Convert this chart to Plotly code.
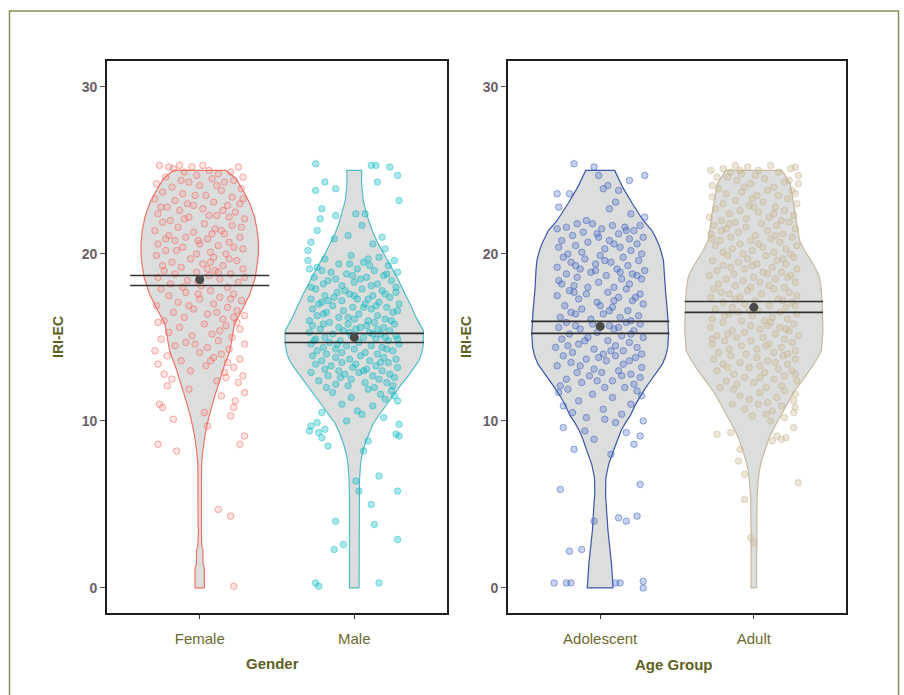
import plotly.graph_objects as go

# ---------------- data ----------------
gender_cats = ["Female", "Male"]
age_cats = ["Adolescent", "Adult"]

# summary: mean and CI bounds
gender_mean = [18.47, 15.00]
gender_ci_lo = [18.11, 14.70]
gender_ci_hi = [18.71, 15.24]
age_mean = [15.66, 16.80]
age_ci_lo = [15.24, 16.50]
age_ci_hi = [15.96, 17.15]

# violin density profiles: score level and half-width (category units)
female_prof_y = [0, 1.2, 1.4, 2.3, 2.5, 3.5, 3.7, 7.4, 8.2, 9.2, 10.2, 11.2, 12.2, 13.2, 14.2, 15.0, 15.8, 16.8, 17.6, 18.6, 19.4, 20.0, 20.6, 21.4, 22.2, 23.0, 23.6, 24.1, 24.5, 25.0]
female_prof_w = [0.030, 0.030, 0.022, 0.020, 0.013, 0.008, 0.011, 0.012, 0.020, 0.035, 0.058, 0.088, 0.120, 0.155, 0.195, 0.210, 0.225, 0.283, 0.325, 0.360, 0.374, 0.380, 0.380, 0.372, 0.355, 0.325, 0.292, 0.262, 0.235, 0.170]
male_prof_y = [0, 5.5, 6.5, 7.45, 8.05, 8.65, 9.25, 9.85, 10.4, 11.0, 11.6, 12.2, 12.7, 13.2, 13.6, 14.0, 14.6, 15.4, 16.2, 16.9, 17.6, 18.4, 19.2, 19.9, 20.6, 21.2, 21.8, 22.5, 23.2, 24.2, 25.0]
male_prof_w = [0.031, 0.031, 0.034, 0.041, 0.052, 0.070, 0.094, 0.123, 0.163, 0.210, 0.258, 0.306, 0.350, 0.390, 0.418, 0.435, 0.447, 0.447, 0.400, 0.366, 0.330, 0.287, 0.240, 0.195, 0.155, 0.125, 0.100, 0.077, 0.058, 0.047, 0.048]
adol_prof_y = [0, 1.5, 3.5, 5.1, 5.6, 6.6, 7.4, 8.3, 8.9, 9.4, 9.9, 10.3, 10.9, 11.4, 11.9, 12.3, 12.9, 13.4, 13.9, 14.4, 15.2, 16.5, 17.8, 19.0, 19.6, 20.1, 20.6, 21.0, 21.4, 22.0, 22.5, 23.0, 24.0, 25.0]
adol_prof_w = [0.084, 0.073, 0.050, 0.040, 0.035, 0.037, 0.055, 0.090, 0.112, 0.135, 0.165, 0.195, 0.225, 0.255, 0.290, 0.320, 0.365, 0.405, 0.427, 0.440, 0.445, 0.438, 0.425, 0.418, 0.412, 0.398, 0.380, 0.360, 0.337, 0.280, 0.245, 0.210, 0.146, 0.094]
adult_prof_y = [0, 3.5, 5.4, 6.3, 7.0, 7.6, 8.3, 9.0, 9.7, 10.4, 11.1, 11.8, 12.4, 13.0, 13.6, 14.2, 15.4, 17.2, 18.0, 18.6, 19.1, 19.6, 20.2, 20.8, 21.5, 22.2, 23.2, 24.2, 25.0]
adult_prof_w = [0.018, 0.018, 0.021, 0.027, 0.036, 0.050, 0.073, 0.100, 0.138, 0.179, 0.222, 0.265, 0.315, 0.362, 0.405, 0.440, 0.450, 0.444, 0.438, 0.427, 0.403, 0.373, 0.330, 0.298, 0.285, 0.276, 0.258, 0.237, 0.183]

# individual jittered observations: (score, horizontal jitter)
female_pts = [
 (25.3,-0.26),(25.2,-0.20),(25.1,-0.17),(25.3,-0.13),(25.2,-0.05),(24.9,-0.10),(25.3,0.02),(25.0,0.06),(24.8,0.12),(25.2,0.25),(24.9,0.20),(24.6,-0.22),(24.7,-0.02),(24.5,0.08),(24.4,-0.12),(24.3,0.16),(24.6,0.28),(24.2,-0.28),(24.1,0.00),(24.4,0.22),(24.0,-0.18),(24.1,0.11),(23.9,0.27),(24.3,-0.07),
 (23.7,-0.24),(23.6,-0.11),(23.5,0.04),(23.8,0.14),(23.4,0.21),(23.3,-0.29),(23.2,-0.16),(23.1,0.09),(23.0,0.26),(22.9,-0.04),(22.8,-0.21),(22.9,0.18),(22.7,0.02),(22.6,-0.13),(22.5,0.23),(22.4,-0.27),(22.3,0.11),(22.2,-0.07),(22.1,0.29),(22.0,-0.19),(22.3,0.06),(22.6,0.15),(23.0,-0.08),(23.3,0.28),(22.2,0.19),(22.8,-0.25),(23.5,-0.03),(22.1,-0.10),
 (21.9,-0.24),(21.8,0.03),(21.7,0.21),(21.6,-0.14),(21.5,0.10),(21.4,-0.29),(21.3,-0.04),(21.2,0.16),(21.1,-0.20),(21.0,0.26),(21.0,-0.09),(20.9,0.05),(20.8,-0.16),(20.7,0.19),(20.6,-0.27),(20.6,0.00),(20.5,0.12),(20.4,-0.11),(20.3,0.28),(20.2,-0.22),(20.1,0.07),(20.0,-0.02),(20.4,0.22),(20.8,-0.01),(21.2,0.08),(21.6,0.27),(20.0,0.17),(20.9,-0.22),(21.4,0.14),(20.2,-0.15),
 (19.9,-0.28),(19.8,0.09),(19.7,-0.06),(19.6,0.24),(19.5,-0.18),(19.4,0.02),(19.3,0.15),(19.2,-0.12),(19.1,0.28),(19.0,-0.23),(19.0,0.10),(18.9,-0.02),(18.8,0.20),(18.8,-0.16),(18.7,0.06),(18.6,-0.27),(18.5,0.13),(18.4,-0.08),(18.3,0.25),(18.2,-0.19),(18.1,0.01),(18.0,0.18),(18.0,-0.11),(19.3,-0.24),(18.6,0.29),(19.7,0.19),(18.3,-0.01),(19.5,0.07),(18.9,0.12),(19.1,0.05),
 (17.9,-0.25),(17.8,0.07),(17.7,-0.09),(17.6,0.22),(17.5,-0.20),(17.4,0.13),(17.3,0.00),(17.2,0.27),(17.1,-0.14),(17.0,0.09),(16.9,-0.28),(16.8,0.18),(16.7,-0.04),(16.6,0.24),(16.5,-0.17),(16.4,0.05),(16.3,0.29),(16.2,-0.10),(16.1,0.15),(16.0,-0.23),(16.5,0.11),(17.3,0.20),(16.9,-0.07),(17.6,-0.01),(16.2,0.22),
 (15.9,-0.27),(15.8,0.03),(15.7,0.17),(15.6,-0.13),(15.5,0.26),(15.3,-0.20),(15.2,0.08),(15.1,-0.05),(15.0,0.21),(14.9,-0.25),(14.8,0.12),(14.7,-0.09),(14.6,0.29),(14.5,-0.16),(14.4,0.05),(14.3,0.19),(14.2,-0.29),(14.1,0.00),(14.0,0.14),(15.4,0.13),(14.6,-0.03),(15.9,0.24),
 (13.9,-0.21),(13.8,0.09),(13.7,0.26),(13.6,-0.12),(13.5,0.18),(13.4,-0.27),(13.3,0.04),(13.2,0.22),(13.0,-0.06),(12.9,0.16),(12.8,-0.23),(12.7,0.28),(12.5,-0.18),(12.4,0.11),(12.3,0.25),(12.1,-0.21),(13.6,0.07),(12.6,0.17),
 (11.9,-0.07),(11.7,0.29),(11.5,0.14),(11.2,0.23),(11.0,-0.26),(10.8,-0.24),(10.8,0.22),(10.5,0.03),(10.3,0.20),(10.1,-0.17),
 (9.7,0.05),(9.1,0.29),(8.6,-0.27),(8.6,0.26),(8.2,-0.15),
 (4.7,0.12),(4.3,0.20),(0.1,0.22),
]
male_pts = [
 (25.4,-0.25),(25.3,0.11),(25.3,0.14),(25.2,0.23),(24.7,0.28),(24.3,-0.19),(24.3,0.15),(23.9,-0.12),(23.8,-0.25),(23.2,0.29),
 (22.7,-0.21),(22.4,0.01),(22.4,0.07),(22.3,-0.12),(22.1,-0.22),(21.4,-0.24),(21.1,-0.04),(21.0,0.18),(20.7,-0.28),(20.3,0.20),(20.2,-0.30),(20.6,0.12),(21.7,0.05),(20.9,-0.13),
 (19.9,-0.02),(19.8,0.16),(19.7,-0.19),(19.6,-0.30),(19.6,0.26),(19.5,0.06),(19.4,-0.10),(19.3,0.22),(19.2,-0.24),(19.1,-0.29),(19.1,0.02),(19.0,0.13),(18.9,-0.15),(18.9,0.28),(18.8,-0.05),(18.7,0.19),(18.6,-0.26),(18.6,0.08),(18.5,-0.12),(18.4,0.24),(18.3,0.00),(18.2,-0.20),(18.2,0.15),(18.1,-0.08),(18.0,0.27),(18.0,-0.28),(18.4,-0.17),(19.3,0.10),(18.7,-0.01),(19.7,0.09),(18.1,0.11),(18.8,0.21),(19.0,-0.21),(18.5,0.04),(19.4,-0.03),
 (17.9,-0.25),(17.9,0.05),(17.8,0.18),(17.7,-0.11),(17.7,0.27),(17.6,-0.03),(17.5,-0.19),(17.5,0.12),(17.4,0.23),(17.3,-0.28),(17.3,0.02),(17.2,-0.08),(17.1,0.16),(17.1,-0.21),(17.0,0.29),(17.0,0.07),(16.9,-0.14),(16.8,0.21),(16.8,-0.01),(16.7,-0.27),(16.7,0.11),(16.6,-0.07),(16.5,0.25),(16.5,-0.18),(16.4,0.03),(16.3,0.15),(16.3,-0.24),(16.2,-0.10),(16.1,0.20),(16.1,0.00),(16.0,-0.29),(16.0,0.09),(17.6,0.20),(17.2,-0.17),(16.9,0.14),(16.6,0.28),(16.2,-0.04),(17.4,-0.13),(17.8,-0.06),(16.4,-0.20),(17.0,-0.23),(16.8,0.06),(17.5,0.00),(16.0,0.24),(17.3,0.09),
 (15.9,-0.16),(15.9,0.13),(15.8,0.26),(15.8,-0.04),(15.7,-0.27),(15.7,0.08),(15.6,-0.10),(15.6,0.19),(15.5,0.01),(15.5,-0.22),(15.4,0.23),(15.4,-0.07),(15.3,0.10),(15.3,-0.29),(15.2,-0.14),(15.2,0.17),(15.1,0.27),(15.1,-0.02),(15.0,-0.19),(15.0,0.06),(14.9,0.14),(14.9,-0.25),(14.8,-0.09),(14.8,0.22),(14.7,0.03),(14.7,-0.16),(14.6,0.29),(14.6,-0.28),(14.5,0.11),(14.5,-0.05),(14.4,-0.20),(14.4,0.18),(14.3,0.00),(14.3,-0.12),(14.2,0.25),(14.2,-0.24),(14.1,0.07),(14.1,-0.08),(14.0,0.15),(14.0,-0.18),(15.6,0.04),(15.0,0.20),(14.6,-0.11),(15.3,-0.03),(14.9,0.28),(15.8,-0.20),(14.3,0.21),(15.2,0.12),(14.8,-0.26),(15.5,0.15),
 (13.9,-0.27),(13.9,0.04),(13.8,0.19),(13.8,-0.12),(13.7,0.27),(13.7,-0.03),(13.6,-0.21),(13.6,0.10),(13.5,0.22),(13.5,-0.08),(13.4,0.01),(13.4,-0.25),(13.3,0.14),(13.3,-0.15),(13.2,0.28),(13.2,-0.01),(13.1,-0.19),(13.1,0.08),(13.0,0.18),(13.0,-0.10),(12.9,-0.28),(12.9,0.03),(12.8,0.23),(12.8,-0.06),(12.7,0.12),(12.7,-0.17),(12.6,0.26),(12.5,-0.02),(12.5,0.16),(12.4,-0.23),(12.3,0.07),(12.3,0.21),(12.2,-0.12),(12.1,0.25),(12.1,-0.04),(12.0,0.13),(12.0,-0.18),(13.5,0.17),(12.6,-0.09),(13.0,0.06),
 (11.9,0.09),(11.8,0.24),(11.7,-0.14),(11.6,0.17),(11.5,0.26),(11.4,-0.02),(11.3,0.20),(11.2,0.28),(11.0,-0.08),(10.9,0.12),(10.6,0.02),(10.5,-0.21),(10.4,0.05),(10.2,0.19),(10.0,-0.05),
 (9.9,-0.24),(9.8,0.29),(9.7,-0.28),(9.5,-0.19),(9.4,-0.29),(9.3,-0.23),(9.2,0.27),(9.1,0.29),(9.0,-0.21),(8.8,0.09),(8.5,-0.17),(8.2,0.06),
 (6.7,0.16),(6.4,0.01),(5.8,0.28),(5.8,0.03),(5.0,0.11),(4.0,-0.12),(3.8,0.13),(2.9,0.28),(2.6,-0.07),(2.3,-0.13),(0.3,-0.25),(0.1,-0.23),(0.3,0.16),
]
adol_pts = [
 (25.4,-0.17),(25.2,-0.04),(24.7,0.29),(24.7,-0.01),(24.4,0.19),(24.1,0.05),(23.9,0.02),(23.8,0.12),(23.6,-0.28),(23.6,-0.20),(23.1,0.10),(22.8,-0.27),(22.7,0.06),(22.2,0.29),(22.0,-0.09),(22.4,0.20),
 (21.8,-0.15),(21.8,-0.05),(21.7,0.08),(21.7,0.26),(21.6,-0.22),(21.6,0.16),(21.5,-0.28),(21.5,0.01),(21.4,0.22),(21.3,-0.11),(21.2,0.12),(21.1,-0.18),(21.0,0.28),(21.0,-0.01),(20.9,0.19),(20.8,-0.25),(20.8,0.06),(20.7,-0.08),(20.6,0.24),(20.5,-0.16),(20.4,0.13),(20.4,-0.27),(20.3,0.03),(20.2,0.20),(20.1,-0.12),(20.0,0.27),(20.0,-0.21),(21.2,-0.02),(20.6,0.09),(21.4,0.17),
 (19.9,0.00),(19.8,-0.24),(19.8,0.15),(19.7,-0.10),(19.6,0.25),(19.5,-0.19),(19.5,0.07),(19.4,-0.03),(19.3,0.18),(19.2,-0.28),(19.1,0.11),(19.1,-0.13),(19.0,0.29),(18.9,-0.06),(18.8,0.21),(18.8,-0.22),(18.7,0.04),(18.6,-0.15),(18.5,0.14),(18.5,0.27),(18.4,-0.27),(18.3,-0.01),(18.2,0.19),(18.1,-0.17),(18.0,0.09),(18.0,-0.08),(19.3,-0.16),(18.7,0.24),(19.6,0.03),(18.9,0.13),(18.2,-0.25),(19.0,-0.03),
 (17.9,0.17),(17.8,-0.20),(17.7,0.05),(17.6,-0.09),(17.6,0.26),(17.5,-0.28),(17.4,0.12),(17.3,-0.14),(17.2,0.21),(17.1,-0.02),(17.0,0.28),(16.9,-0.23),(16.8,0.08),(16.7,-0.12),(16.6,0.18),(16.5,-0.19),(16.4,0.02),(16.3,0.25),(16.2,-0.26),(16.2,0.13),(16.1,-0.06),(16.0,0.20),(16.9,0.00),(17.4,0.23),(16.4,-0.16),(17.7,-0.17),(16.6,0.06),(17.2,0.09),
 (15.9,-0.22),(15.9,0.17),(15.8,-0.05),(15.8,0.26),(15.7,0.06),(15.6,-0.27),(15.6,0.12),(15.5,-0.13),(15.4,0.22),(15.3,-0.02),(15.2,-0.20),(15.1,0.14),(15.0,-0.08),(15.0,0.28),(14.9,-0.25),(14.8,0.05),(14.7,0.19),(14.6,-0.14),(14.5,0.10),(14.4,-0.29),(14.4,0.24),(14.3,-0.04),(14.2,0.15),(14.1,-0.18),(14.0,0.02),(14.0,0.27),(15.5,0.09),(14.8,-0.10),(15.2,0.20),(14.5,-0.21),(15.7,-0.16),(14.2,0.07),
 (13.9,-0.24),(13.9,0.10),(13.8,0.23),(13.7,-0.09),(13.6,0.04),(13.5,-0.19),(13.4,0.15),(13.3,-0.28),(13.2,0.27),(13.1,-0.04),(13.0,0.12),(12.9,-0.15),(12.8,0.20),(12.7,-0.07),(12.6,0.26),(12.5,-0.22),(12.4,0.08),(12.3,-0.12),(12.2,0.22),(12.1,-0.26),(12.0,0.03),(12.0,0.16),(13.6,0.19),(12.9,0.01),(13.3,-0.13),(12.4,-0.02),(13.8,-0.01),(12.7,0.14),
 (11.9,-0.21),(11.8,0.24),(11.6,-0.05),(11.5,0.27),(11.4,0.08),(11.2,-0.14),(11.0,0.20),(10.9,-0.24),(10.7,0.02),(10.5,-0.18),(10.4,0.14),(10.2,-0.09),(10.0,0.28),(10.1,0.03),(11.7,-0.27),
 (9.9,0.10),(9.6,-0.24),(9.4,-0.10),(9.3,0.17),(9.1,0.26),(8.9,-0.04),(8.6,0.22),(8.3,-0.17),(8.0,0.07),
 (5.9,-0.26),(6.2,0.26),(4.0,-0.04),(4.2,0.12),(4.0,0.17),(4.3,0.24),(2.2,-0.20),(2.3,-0.12),(0.3,-0.30),(0.3,-0.22),(0.3,-0.19),(0.3,0.10),(0.3,0.13),(0.4,0.28),(0.0,0.28),
]
adult_pts = [
 (25.3,-0.12),(25.3,0.11),(25.2,-0.04),(25.2,0.27),(25.1,-0.20),(25.1,0.24),(25.0,-0.28),(25.0,0.03),(24.9,-0.15),(24.9,0.16),(24.8,-0.08),(24.7,0.29),(24.6,-0.24),(24.5,0.07),(24.4,-0.11),(24.3,0.20),(24.2,0.29),(24.2,-0.02),(24.1,-0.27),(24.0,0.13),(24.6,-0.17),(24.4,0.23),(24.0,-0.06),(25.0,-0.09),(24.7,0.01),
 (23.9,-0.23),(23.8,0.09),(23.8,0.25),(23.7,-0.08),(23.6,-0.18),(23.5,0.16),(23.5,0.02),(23.4,-0.27),(23.3,0.22),(23.2,-0.12),(23.1,0.06),(23.0,0.28),(23.0,-0.20),(22.9,-0.03),(22.8,0.14),(22.7,-0.25),(22.6,0.20),(22.6,-0.09),(22.5,0.03),(22.4,-0.16),(22.3,0.26),(22.2,-0.29),(22.2,0.10),(22.1,-0.05),(22.0,0.18),(22.0,-0.21),(23.3,-0.01),(22.8,0.00),(23.6,0.27),(22.4,0.13),
 (21.9,-0.12),(21.9,0.23),(21.8,0.05),(21.7,-0.26),(21.7,0.15),(21.6,-0.05),(21.5,0.27),(21.5,-0.18),(21.4,0.09),(21.3,-0.10),(21.2,0.19),(21.2,-0.28),(21.1,0.01),(21.0,-0.15),(21.0,0.25),(20.9,0.11),(20.8,-0.22),(20.8,-0.02),(20.7,0.17),(20.6,-0.09),(20.5,0.28),(20.5,-0.25),(20.4,0.06),(20.3,-0.14),(20.3,0.21),(20.2,-0.01),(20.1,0.13),(20.1,-0.20),(20.0,0.24),(20.0,-0.07),(21.4,-0.21),(20.6,0.03),(21.1,0.14),(20.9,-0.27),(21.8,-0.16),
 (19.9,0.08),(19.9,-0.17),(19.8,0.26),(19.7,-0.04),(19.6,0.15),(19.6,-0.27),(19.5,-0.10),(19.4,0.21),(19.4,0.02),(19.3,-0.20),(19.2,0.12),(19.1,-0.06),(19.1,0.28),(19.0,-0.24),(18.9,0.06),(18.9,0.18),(18.8,-0.13),(18.7,-0.29),(18.7,0.24),(18.6,0.00),(18.5,-0.18),(18.5,0.14),(18.4,-0.07),(18.3,0.27),(18.3,0.04),(18.2,-0.23),(18.1,0.10),(18.1,-0.12),(18.0,0.20),(18.0,-0.02),(19.2,-0.15),(18.6,0.22),(19.7,0.19),(18.8,0.09),(19.3,-0.01),
 (17.9,-0.26),(17.9,0.13),(17.8,-0.04),(17.7,0.23),(17.6,-0.16),(17.6,0.05),(17.5,0.28),(17.4,-0.09),(17.4,-0.28),(17.3,0.16),(17.2,0.01),(17.1,-0.20),(17.1,0.25),(17.0,-0.06),(16.9,0.10),(16.8,-0.14),(16.8,0.21),(16.7,-0.25),(16.6,0.03),(16.5,0.17),(16.5,-0.10),(16.4,0.28),(16.3,-0.19),(16.3,-0.01),(16.2,0.12),(16.1,-0.27),(16.1,0.22),(16.0,-0.08),(16.0,0.07),(17.3,-0.12),(16.9,0.27),(17.7,-0.21),(16.6,-0.03),(17.2,0.19),(16.4,-0.16),
 (15.9,0.11),(15.9,-0.20),(15.8,0.26),(15.7,-0.02),(15.6,-0.28),(15.6,0.17),(15.5,0.04),(15.4,-0.14),(15.4,0.23),(15.3,-0.06),(15.2,0.14),(15.1,-0.24),(15.1,0.29),(15.0,-0.11),(15.0,0.06),(14.9,0.20),(14.8,-0.19),(14.8,-0.02),(14.7,0.25),(14.6,-0.27),(14.6,0.10),(14.5,-0.08),(14.4,0.18),(14.3,-0.16),(14.3,0.02),(14.2,0.27),(14.1,-0.23),(14.1,0.13),(14.0,-0.05),(14.0,0.22),(15.7,0.09),(15.2,-0.17),(14.5,0.08),(14.9,-0.27),(15.5,0.21),
 (13.9,-0.15),(13.9,0.19),(13.8,0.02),(13.7,-0.26),(13.7,0.27),(13.6,0.09),(13.5,-0.09),(13.4,0.22),(13.4,-0.20),(13.3,0.04),(13.2,-0.03),(13.1,0.16),(13.0,-0.24),(13.0,0.25),(12.9,0.07),(12.8,-0.13),(12.7,0.20),(12.6,-0.06),(12.5,0.13),(12.4,-0.18),(12.4,0.28),(12.3,0.00),(12.2,-0.11),(12.1,0.18),(12.0,-0.22),(12.0,0.08),(13.5,0.14),(12.8,0.27),(13.2,-0.17),(12.6,0.04),
 (11.9,-0.13),(11.8,0.20),(11.7,0.04),(11.6,0.27),(11.5,-0.09),(11.4,0.15),(11.3,-0.03),(11.2,0.26),(11.1,0.09),(11.0,-0.14),(10.9,0.18),(10.8,0.27),(10.7,-0.06),(10.6,0.12),(10.5,0.26),(10.3,-0.01),(10.2,0.20),(10.0,0.11),(11.0,0.03),(10.4,0.08),
 (9.3,-0.15),(9.2,-0.24),(9.1,0.15),(8.9,0.18),(9.0,0.21),(8.8,0.12),(8.3,-0.09),(9.6,0.26),
 (7.6,-0.10),(6.8,-0.06),(6.3,0.29),(5.3,-0.06),(3.0,-0.02),(2.7,0.00),
]

# ---------------- styling ----------------
FONT = "Liberation Sans, Arial, sans-serif"
OLIVE = "#5f5f22"
OLIVE_TICK = "#6b6a30"
YTICK = "#6a6068"
VIOLIN_FILL = "#dcdddd"

groups = [
    # (points, prof_y, prof_w, category position, axes, outline, marker fill, marker line)
    (female_pts, female_prof_y, female_prof_w, 1, "x", "y", "#ee7369", "rgba(248,118,109,0.20)", "rgba(240,105,98,0.55)"),
    (male_pts, male_prof_y, male_prof_w, 2, "x", "y", "#52bcc4", "rgba(0,188,196,0.34)", "rgba(0,178,188,0.40)"),
    (adol_pts, adol_prof_y, adol_prof_w, 1, "x2", "y2", "#3d56a6", "rgba(70,105,200,0.30)", "rgba(60,92,190,0.50)"),
    (adult_pts, adult_prof_y, adult_prof_w, 2, "x2", "y2", "#c8b99e", "rgba(204,188,152,0.38)", "rgba(192,176,140,0.45)"),
]

fig = go.Figure()

for pts, py, pw, c, xa, ya, outline, mfill, mline in groups:
    # violin outline
    vx = [c + w for w in pw] + [c - w for w in reversed(pw)] + [c + pw[0]]
    vy = list(py) + list(reversed(py)) + [py[0]]
    fig.add_trace(go.Scatter(x=vx, y=vy, xaxis=xa, yaxis=ya, mode="lines",
                             fill="toself", fillcolor=VIOLIN_FILL,
                             line=dict(color=outline, width=1.2),
                             hoverinfo="skip", showlegend=False))
    # jittered observations
    fig.add_trace(go.Scatter(x=[c + d for _, d in pts], y=[v for v, _ in pts],
                             xaxis=xa, yaxis=ya, mode="markers",
                             marker=dict(size=6.5, color=mfill, line=dict(color=mline, width=1)),
                             hoverinfo="skip", showlegend=False))

# means and confidence intervals
HALF = 0.45
for means, lo, hi, xa, ya in [(gender_mean, gender_ci_lo, gender_ci_hi, "x", "y"),
                              (age_mean, age_ci_lo, age_ci_hi, "x2", "y2")]:
    for i, (m, l, h) in enumerate(zip(means, lo, hi)):
        c = i + 1
        for v in (l, h):
            fig.add_trace(go.Scatter(x=[c - HALF, c + HALF], y=[v, v], xaxis=xa, yaxis=ya,
                                     mode="lines", line=dict(color="#303030", width=1.6),
                                     hoverinfo="skip", showlegend=False))
        fig.add_trace(go.Scatter(x=[c], y=[m], xaxis=xa, yaxis=ya, mode="markers",
                                 marker=dict(size=9, color="#4a4a4a"),
                                 hoverinfo="skip", showlegend=False))

W, H = 904, 695
ydom = [1 - 613 / H, 1 - 61 / H]

common_x = dict(range=[0.4, 2.6], tickvals=[1, 2], showgrid=False, zeroline=False,
                showline=True, mirror=True, linecolor="#1e1e1e", linewidth=1.6,
                ticks="outside", ticklen=4, tickcolor="#333", tickwidth=1.2,
                ticklabelstandoff=7,
                tickfont=dict(family=FONT, size=15, color=OLIVE_TICK))
common_y = dict(range=[-1.5, 31.55], tickvals=[0, 10, 20, 30], domain=ydom,
                showgrid=False, zeroline=False,
                showline=True, mirror=True, linecolor="#1e1e1e", linewidth=1.6,
                ticks="outside", ticklen=5, tickcolor="#555", tickwidth=1.2,
                tickfont=dict(family=FONT, size=14, color=YTICK, weight="bold"))

fig.update_layout(
    width=W, height=H,
    margin=dict(l=0, r=0, t=0, b=0),
    paper_bgcolor="white", plot_bgcolor="white",
    showlegend=False,
    xaxis=dict(domain=[107 / W, 447 / W], ticktext=gender_cats, anchor="y", **common_x),
    xaxis2=dict(domain=[508 / W, 846 / W], ticktext=age_cats, anchor="y2", **common_x),
    yaxis=dict(anchor="x", **common_y),
    yaxis2=dict(anchor="x2", **common_y),
    shapes=[dict(type="rect", xref="paper", yref="paper",
                 x0=9.5 / W, x1=898.5 / W, y0=-0.1, y1=1 - 11 / H,
                 line=dict(color="#8c8c56", width=1.5), fillcolor="rgba(0,0,0,0)", layer="below")],
    annotations=[
        dict(text="<b>Gender</b>", x=272 / W, y=1 - 663 / H, xref="paper", yref="paper",
             showarrow=False, xanchor="center", yanchor="middle",
             font=dict(family=FONT, size=15, color=OLIVE)),
        dict(text="<b>Age Group</b>", x=674 / W, y=1 - 664 / H, xref="paper", yref="paper",
             showarrow=False, xanchor="center", yanchor="middle",
             font=dict(family=FONT, size=15, color=OLIVE)),
        dict(text="<b>IRI-EC</b>", x=58 / W, y=1 - 337 / H, xref="paper", yref="paper",
             showarrow=False, xanchor="center", yanchor="middle", textangle=-90,
             font=dict(family=FONT, size=14, color=OLIVE)),
        dict(text="<b>IRI-EC</b>", x=466 / W, y=1 - 337 / H, xref="paper", yref="paper",
             showarrow=False, xanchor="center", yanchor="middle", textangle=-90,
             font=dict(family=FONT, size=14, color=OLIVE)),
    ],
)

fig.write_html("out.html")
